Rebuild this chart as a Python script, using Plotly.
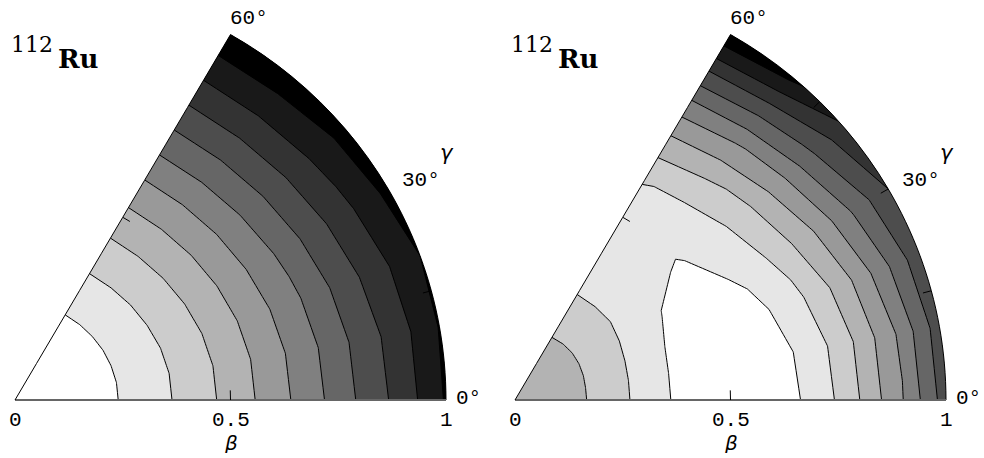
import numpy as np
import plotly.graph_objects as go

# ---- data ----
beta = [0.0, 0.1, 0.2, 0.3, 0.4, 0.5, 0.6, 0.7, 0.8, 0.9, 1.0]
gamma_deg = [0, 10, 20, 30, 40, 50, 60]

# energy surface (contour units), one row per gamma value, columns follow beta
energy_left = [
    [0.0, 0.2, 0.70, 1.46, 2.30, 3.33, 4.50, 5.75, 7.13, 8.43, 10.10],
    [0.0, 0.2, 0.70, 1.47, 2.31, 3.35, 4.53, 5.80, 7.18, 8.49, 10.05],
    [0.0, 0.2, 0.71, 1.49, 2.35, 3.41, 4.62, 5.92, 7.32, 8.67, 10.00],
    [0.0, 0.2, 0.71, 1.52, 2.41, 3.49, 4.74, 6.09, 7.52, 8.90, 10.30],
    [0.0, 0.2, 0.72, 1.54, 2.46, 3.57, 4.85, 6.26, 7.71, 9.14, 10.45],
    [0.0, 0.2, 0.72, 1.56, 2.50, 3.63, 4.94, 6.38, 7.85, 9.31, 10.75],
    [0.0, 0.2, 0.72, 1.57, 2.51, 3.65, 4.97, 6.43, 7.90, 9.37, 10.84],
]
energy_right = [
    [3.75, 3.55, 2.72, 1.64, 0.60, 0.30, 0.50, 1.30, 3.00, 4.98, 7.50],
    [3.75, 3.55, 2.72, 1.65, 0.60, 0.25, 0.50, 1.40, 3.05, 5.05, 7.55],
    [3.75, 3.55, 2.75, 1.70, 0.70, 0.30, 0.70, 1.80, 3.35, 5.45, 7.70],
    [3.75, 3.55, 2.78, 1.80, 0.95, 0.50, 1.20, 2.30, 4.00, 6.05, 8.00],
    [3.75, 3.55, 2.80, 1.90, 1.20, 0.92, 1.50, 2.75, 4.60, 6.85, 8.80],
    [3.75, 3.55, 2.80, 1.90, 1.40, 1.35, 1.85, 3.20, 5.10, 7.50, 10.30],
    [3.75, 3.55, 2.78, 1.90, 1.50, 1.55, 2.05, 3.55, 5.50, 8.00, 10.90],
]
contour_start, contour_end, contour_step = 1, 10, 1

beta_ticks = [0, 0.5, 1]
beta_tick_text = ["0", "0.5", "1"]
gamma_ticks = [15, 30, 45]
gamma_labels = [0, 30, 60]
nucleus_mass = "112"
nucleus_symbol = "Ru"

# ---- polar grid for the carpets ----
B, G = np.meshgrid(np.array(beta), np.radians(gamma_deg))
grid_x = (B * np.cos(G)).tolist()
grid_y = (B * np.sin(G)).tolist()

fig = go.Figure()
panels = [("c1", "x", "y", energy_left), ("c2", "x2", "y2", energy_right)]
hidden_axis = dict(showgrid=False, showticklabels="none", minorgridcount=0,
                   smoothing=1)
for cid, xa, ya, z in panels:
    fig.add_trace(go.Contourcarpet(
        carpet=cid, z=z, xaxis=xa, yaxis=ya,
        autocontour=False,
        contours=dict(start=contour_start, end=contour_end, size=contour_step,
                      coloring="fill", showlines=True),
        line=dict(color="black", width=1, smoothing=0),
        colorscale=[[0, "#ffffff"], [1, "#000000"]],
        showscale=False,
    ))
    fig.add_trace(go.Carpet(
        carpet=cid, a=beta, b=gamma_deg, x=grid_x, y=grid_y,
        xaxis=xa, yaxis=ya,
        aaxis=dict(hidden_axis, startline=False, endline=True,
                   endlinecolor="black", endlinewidth=1),
        baxis=dict(hidden_axis, startline=True, endline=True,
                   startlinecolor="#666666", startlinewidth=2,
                   endlinecolor="black", endlinewidth=1),
    ))
    # small tick marks
    tick_specs = [([beta_ticks[1]] * 2, [gamma_deg[0], gamma_deg[0] + 2.6]),
                  ([beta_ticks[1]] * 2, [gamma_deg[-1], gamma_deg[-1] - 2.2])]
    for g in gamma_ticks:
        tick_specs.append(([beta_ticks[-1], beta_ticks[-1] - 0.02], [g, g]))
    for ta, tb in tick_specs:
        fig.add_trace(go.Scattercarpet(
            carpet=cid, a=ta, b=tb, mode="lines", xaxis=xa, yaxis=ya,
            line=dict(color="black", width=1), hoverinfo="skip",
            showlegend=False))

# ---- text ----
tick_font = dict(family="Liberation Mono", size=21, color="black")
annotations = []
for xr, yr in [("x", "y"), ("x2", "y2")]:
    for v, t in zip(beta_ticks, beta_tick_text):
        annotations.append(dict(x=v, y=-0.048, text=t, xref=xr, yref=yr,
                                showarrow=False, font=tick_font, height=18,
                                borderpad=0,
                                xanchor="center", yanchor="middle"))
    annotations.append(dict(x=0.5, y=-0.103, text="<i>β</i>", xref=xr, yref=yr,
                            showarrow=False, height=20, borderpad=0,
                            font=dict(family="DejaVu Sans", size=20, color="black")))
    annotations.append(dict(x=1.002, y=0.585, text="<i>γ</i>", xref=xr, yref=yr,
                            showarrow=False,
                            font=dict(family="DejaVu Sans", size=21, color="black")))
    lab_pos = {0: (1.02, 0.004, "left"), 30: (0.942, 0.521, "center"),
               60: (0.542, 0.903, "center")}
    for g in gamma_labels:
        px, py, anc = lab_pos[g]
        annotations.append(dict(x=px, y=py, text=f"{g}°", xref=xr, yref=yr,
                                showarrow=False, font=tick_font, borderpad=0,
                                xanchor=anc, yanchor="middle"))
    annotations.append(dict(x=-0.014, y=0.842, text=nucleus_mass, xref=xr, yref=yr,
                            showarrow=False, xanchor="left", yanchor="middle",
                            font=dict(family="DejaVu Serif", size=22, color="black")))
    annotations.append(dict(x=0.095, y=0.807, text=f"<b>{nucleus_symbol}</b>",
                            xref=xr, yref=yr, showarrow=False,
                            xanchor="left", yanchor="middle",
                            font=dict(family="DejaVu Serif", size=26, color="black")))

ax_common = dict(visible=False, showgrid=False, zeroline=False, fixedrange=True)
fig.update_layout(
    width=984, height=458, autosize=False,
    margin=dict(l=0, r=0, t=0, b=0, pad=0),
    paper_bgcolor="white", plot_bgcolor="white",
    showlegend=False,
    xaxis=dict(ax_common, domain=[0, 0.5], range=[-15 / 431, 477 / 431]),
    yaxis=dict(ax_common, domain=[0, 1], range=[-58 / 422, 400 / 422]),
    xaxis2=dict(ax_common, domain=[0.5, 1], range=[-23 / 431, 469 / 431]),
    yaxis2=dict(ax_common, domain=[0, 1], range=[-58 / 422, 400 / 422]),
    annotations=annotations,
)
fig.write_html("out.html")
